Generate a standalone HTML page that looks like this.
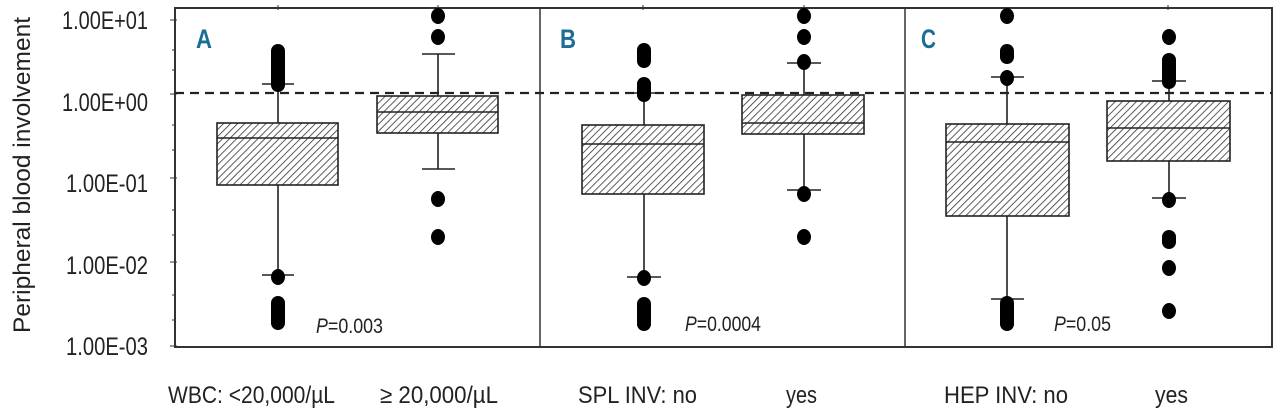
<!DOCTYPE html>
<html><head><meta charset="utf-8"><style>
html,body{margin:0;padding:0;background:#fff;width:1280px;height:417px;overflow:hidden}
svg text{font-family:"Liberation Sans",sans-serif;fill:#222}
</style></head><body>
<svg width="1280" height="417" viewBox="0 0 1280 417" xmlns="http://www.w3.org/2000/svg">
<defs>
<pattern id="h" patternUnits="userSpaceOnUse" width="5" height="5" patternTransform="rotate(45)">
<rect width="5" height="5" fill="#fff"/><line x1="0" y1="0" x2="0" y2="5" stroke="#333" stroke-width="1.6"/>
</pattern>
</defs>
<rect x="175" y="8" width="1097" height="339" fill="none" stroke="#333" stroke-width="2"/>
<line x1="540" y1="8" x2="540" y2="347" stroke="#333" stroke-width="1.5"/>
<line x1="905" y1="8" x2="905" y2="347" stroke="#333" stroke-width="1.5"/>
<g stroke="#333" stroke-width="1">
<line x1="170" y1="20" x2="177" y2="20"/><line x1="170" y1="94" x2="177" y2="94"/><line x1="170" y1="178" x2="177" y2="178"/><line x1="170" y1="262" x2="177" y2="262"/><line x1="170" y1="346" x2="177" y2="346"/>
<line x1="172" y1="50" x2="175" y2="50"/><line x1="172" y1="70" x2="175" y2="70"/><line x1="172" y1="125" x2="175" y2="125"/><line x1="172" y1="150" x2="175" y2="150"/><line x1="172" y1="210" x2="175" y2="210"/><line x1="172" y1="235" x2="175" y2="235"/><line x1="172" y1="295" x2="175" y2="295"/><line x1="172" y1="320" x2="175" y2="320"/>
<line x1="278" y1="5" x2="278" y2="10"/><line x1="438" y1="5" x2="438" y2="10"/><line x1="643" y1="5" x2="643" y2="10"/><line x1="804" y1="5" x2="804" y2="10"/><line x1="1168" y1="5" x2="1168" y2="10"/>
</g>
<g font-size="25">
<text x="62" y="29" textLength="86" lengthAdjust="spacingAndGlyphs">1.00E+01</text>
<text x="62" y="111" textLength="86" lengthAdjust="spacingAndGlyphs">1.00E+00</text>
<text x="66" y="192" textLength="82" lengthAdjust="spacingAndGlyphs">1.00E-01</text>
<text x="66" y="274" textLength="82" lengthAdjust="spacingAndGlyphs">1.00E-02</text>
<text x="66" y="355" textLength="82" lengthAdjust="spacingAndGlyphs">1.00E-03</text>
</g>
<text transform="translate(30,333) rotate(-90)" font-size="24" textLength="316" lengthAdjust="spacingAndGlyphs">Peripheral blood involvement</text>
<line x1="175" y1="93" x2="1272" y2="93" stroke="#222" stroke-width="2.2" stroke-dasharray="9,6"/>
<g font-size="27" font-weight="bold">
<text x="196" y="48" textLength="16" lengthAdjust="spacingAndGlyphs" style="fill:#1a6e93">A</text>
<text x="560" y="48" textLength="16" lengthAdjust="spacingAndGlyphs" style="fill:#1a6e93">B</text>
<text x="921" y="48" textLength="15" lengthAdjust="spacingAndGlyphs" style="fill:#1a6e93">C</text>
</g>
<g stroke="#222" stroke-width="1.6" fill="none">
<line x1="278" y1="84" x2="278" y2="123"/><line x1="278" y1="185" x2="278" y2="275"/>
<line x1="262" y1="84" x2="294" y2="84"/><line x1="262" y1="275" x2="294" y2="275"/>
<rect x="217" y="123" width="121" height="62" fill="url(#h)"/><line x1="217" y1="138" x2="338" y2="138"/>
<line x1="438" y1="54" x2="438" y2="96"/><line x1="438" y1="133" x2="438" y2="169"/>
<line x1="422" y1="54" x2="455" y2="54"/><line x1="422" y1="169" x2="455" y2="169"/>
<rect x="377" y="96" width="121" height="37" fill="url(#h)"/><line x1="377" y1="112" x2="498" y2="112"/>
<line x1="644" y1="93" x2="644" y2="125"/><line x1="644" y1="194" x2="644" y2="277"/>
<line x1="627" y1="93" x2="661" y2="93"/><line x1="627" y1="277" x2="661" y2="277"/>
<rect x="582" y="125" width="122" height="69" fill="url(#h)"/><line x1="582" y1="144" x2="704" y2="144"/>
<line x1="804" y1="63" x2="804" y2="95"/><line x1="804" y1="134" x2="804" y2="190"/>
<line x1="787" y1="63" x2="821" y2="63"/><line x1="787" y1="190" x2="821" y2="190"/>
<rect x="742" y="95" width="122" height="39" fill="url(#h)"/><line x1="742" y1="123" x2="864" y2="123"/>
<line x1="1007" y1="77" x2="1007" y2="124"/><line x1="1007" y1="216" x2="1007" y2="299"/>
<line x1="991" y1="77" x2="1024" y2="77"/><line x1="991" y1="299" x2="1024" y2="299"/>
<rect x="946" y="124" width="123" height="92" fill="url(#h)"/><line x1="946" y1="142" x2="1069" y2="142"/>
<line x1="1169" y1="81" x2="1169" y2="101"/><line x1="1169" y1="161" x2="1169" y2="198"/>
<line x1="1152" y1="81" x2="1186" y2="81"/><line x1="1152" y1="198" x2="1186" y2="198"/>
<rect x="1107" y="101" width="123" height="60" fill="url(#h)"/><line x1="1107" y1="128" x2="1230" y2="128"/>
</g>
<g fill="#000">
<rect x="271" y="44" width="14" height="48" rx="7"/>
<ellipse cx="278" cy="277" rx="7" ry="8"/>
<rect x="271" y="296" width="14" height="34" rx="7"/>
<ellipse cx="438" cy="16" rx="7" ry="8"/><ellipse cx="438" cy="37" rx="7" ry="8"/>
<ellipse cx="438" cy="199" rx="7" ry="8"/><ellipse cx="438" cy="237" rx="7" ry="8"/>
<rect x="637" y="43" width="14" height="25" rx="7"/>
<rect x="637" y="77" width="14" height="25" rx="7"/>
<ellipse cx="644" cy="278" rx="7" ry="8"/>
<rect x="637" y="297" width="14" height="34" rx="7"/>
<ellipse cx="804" cy="16" rx="7" ry="8"/><ellipse cx="804" cy="37" rx="7" ry="8"/><ellipse cx="804" cy="62" rx="7" ry="8"/>
<ellipse cx="804" cy="194" rx="7" ry="8"/><ellipse cx="804" cy="237" rx="7" ry="8"/>
<ellipse cx="1007" cy="16" rx="7" ry="8"/>
<rect x="1000" y="44" width="14" height="20" rx="7"/>
<ellipse cx="1007" cy="78" rx="7" ry="8"/>
<rect x="1000" y="296" width="14" height="35" rx="7"/>
<ellipse cx="1169" cy="37" rx="7" ry="8"/>
<rect x="1162" y="53" width="14" height="36" rx="7"/>
<ellipse cx="1169" cy="200" rx="7" ry="8"/>
<rect x="1162" y="230" width="14" height="19" rx="7"/>
<ellipse cx="1169" cy="268" rx="7" ry="8"/>
<ellipse cx="1169" cy="311" rx="7" ry="8"/>
</g>
<g font-size="21">
<text x="316" y="333" textLength="67" lengthAdjust="spacingAndGlyphs"><tspan font-style="italic">P</tspan>=0.003</text>
<text x="685" y="331" textLength="76" lengthAdjust="spacingAndGlyphs"><tspan font-style="italic">P</tspan>=0.0004</text>
<text x="1054" y="331" textLength="57" lengthAdjust="spacingAndGlyphs"><tspan font-style="italic">P</tspan>=0.05</text>
</g>
<g font-size="24">
<text x="168" y="403" textLength="167" lengthAdjust="spacingAndGlyphs">WBC: &lt;20,000/µL</text>
<text x="380" y="403" textLength="118" lengthAdjust="spacingAndGlyphs">≥ 20,000/µL</text>
<text x="578" y="403" textLength="119" lengthAdjust="spacingAndGlyphs">SPL INV: no</text>
<text x="786" y="403" textLength="31" lengthAdjust="spacingAndGlyphs">yes</text>
<text x="944" y="403" textLength="124" lengthAdjust="spacingAndGlyphs">HEP INV: no</text>
<text x="1155" y="403" textLength="33" lengthAdjust="spacingAndGlyphs">yes</text>
</g>
</svg>
</body></html>
